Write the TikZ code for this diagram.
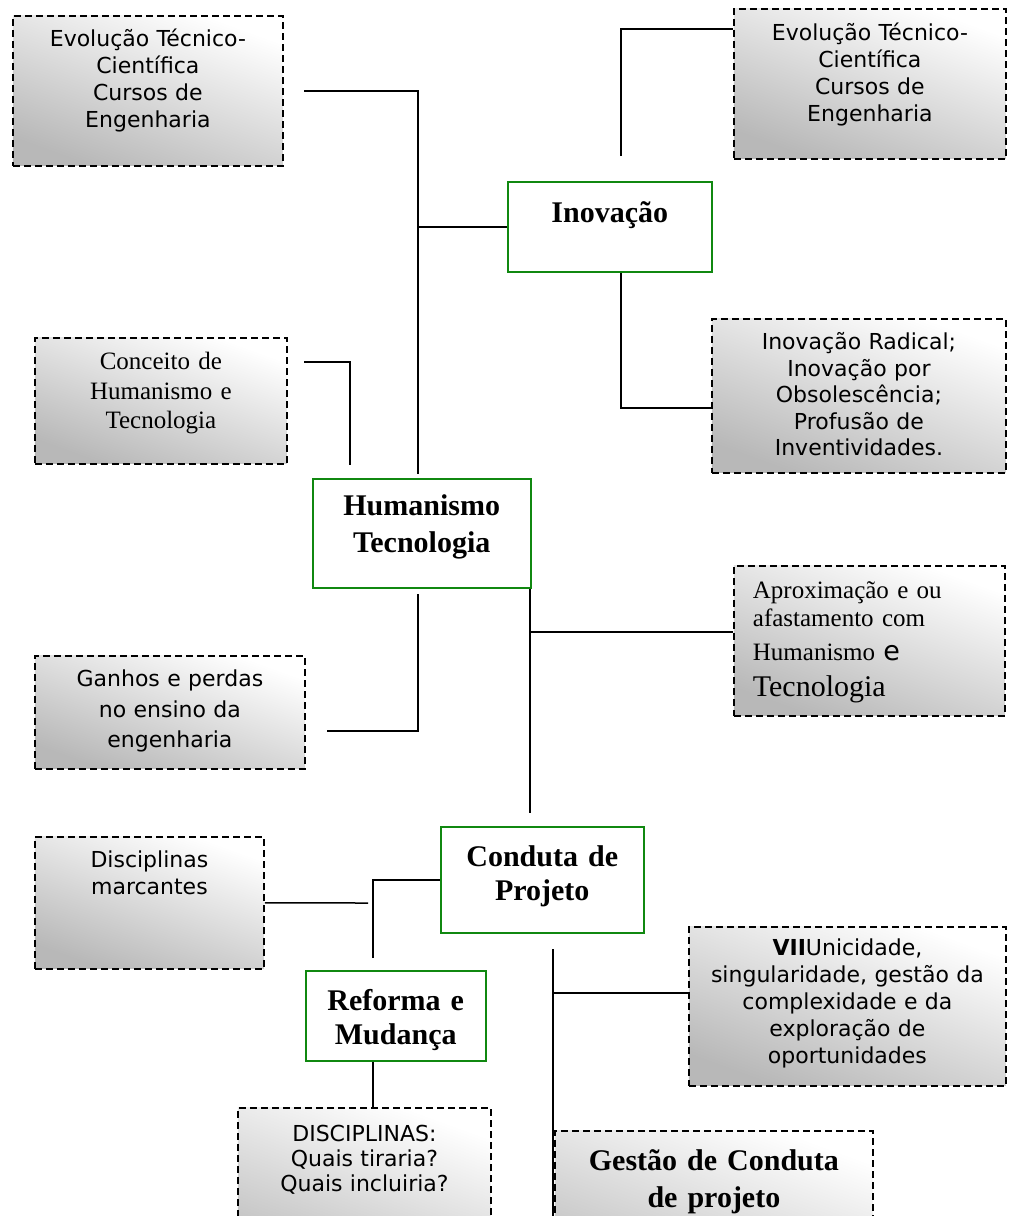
\documentclass[tikz,border=0pt]{standalone}
\usepackage{fontspec}
\setmainfont{Liberation Serif}
\newfontfamily\notefont{DejaVu Sans}
\definecolor{topicgreen}{RGB}{16,136,16}
\begin{document}
\begin{tikzpicture}[x=1pt,y=-1pt]
      \tikzset{note/.style={draw, dash pattern=on 7pt off 4pt, line width=1.8pt, shading=axis, top color=white, bottom color=black!28, shading angle=-20, anchor=north west, inner sep=0pt, align=center, font=\notefont\fontsize{22}{27}\selectfont},
               topic/.style={draw=topicgreen, line width=1.5pt, fill=white, anchor=north west, inner sep=0pt, align=center, font=\bfseries\fontsize{30}{37}\selectfont},
               link/.style={line width=1.5pt}}
      \useasboundingbox (0,0) rectangle (1012,1216);
%% Topics
	% green boxes
	\node[topic, text width=204pt, text height=41pt, text depth=49pt] (inov) at (507,181) {Inovação};
	\node[topic, text width=218pt, text height=37pt, text depth=72pt] (hum) at (312,478) {Humanismo\\Tecnologia};
	\node[topic, text width=203pt, text height=40pt, text depth=66pt, font=\bfseries\fontsize{30}{34}\selectfont] (conduta) at (440,826) {Conduta de\\Projeto};
	\node[topic, text width=180pt, text height=40pt, text depth=50pt, font=\bfseries\fontsize{30}{34}\selectfont] (reforma) at (305,970) {Reforma e\\Mudança};
%% Notes
	% dashed boxes
	\node[note, text width=270pt, text height=31pt, text depth=119pt] (evoA) at (12,15) {Evolução Técnico-\\Científica\\Cursos de\\Engenharia};
	\node[note, text width=272pt, text height=32pt, text depth=118pt] (evoB) at (733,8) {Evolução Técnico-\\Científica\\Cursos de\\Engenharia};
	\node[note, text width=294pt, text height=31pt, text depth=123pt, font=\notefont\fontsize{22}{26.5}\selectfont] (radical) at (711,318) {Inovação Radical;\\Inovação por\\Obsolescência;\\Profusão de\\Inventividades.};
	\node[note, text width=252pt, text height=32pt, text depth=94pt, font=\rmfamily\fontsize{25}{29.5}\selectfont] (conceito) at (34,337) {Conceito de\\Humanismo e\\Tecnologia};
	\node[note, inner xsep=19pt, text width=233pt, text height=33pt, text depth=117pt, align=left, font=\rmfamily\fontsize{25}{28}\selectfont] (aprox) at (733,565) {Aproximação e ou\\afastamento com\\[6pt]Humanismo {\notefont\fontsize{27}{28}\selectfont e}\\[8pt]{\fontsize{30}{28}\selectfont Tecnologia}};
	\node[note, text width=270pt, text height=31pt, text depth=82pt, font=\notefont\fontsize{22}{30.5}\selectfont] (ganhos) at (34,655) {Ganhos e perdas\\no ensino da\\engenharia};
	\node[note, text width=229pt, text height=31pt, text depth=101pt] (disc) at (34,836) {Disciplinas\\marcantes};
	\node[note, text width=317pt, text height=29pt, text depth=130pt] (unic) at (688,926) {\textbf{VII}Unicidade,\\singularidade, gestão da\\complexidade e da\\exploração de\\oportunidades};
	\node[note, text width=253pt, text height=34pt, text depth=150pt, font=\notefont\fontsize{22}{25}\selectfont] (quais) at (237,1107) {DISCIPLINAS:\\Quais tiraria?\\Quais incluiria?};
	\node[note, text width=318pt, text height=40pt, text depth=140pt, font=\bfseries\fontsize{30}{37}\selectfont] (gestao) at (554,1130) {Gestão de Conduta\\de projeto};
%% Free ends
	\coordinate (evoAend) at (304,91);
	\coordinate (trunkTop) at (418,91);
	\coordinate (trunkBot) at (418,474);
	\coordinate (inovUp) at (621,156);
	\coordinate (bendB) at (621,29);
	\coordinate (bendD) at (621,408);
	\coordinate (concA) at (304,362);
	\coordinate (concB) at (350,362);
	\coordinate (concC) at (350,465);
	\coordinate (humDown) at (530,813);
	\coordinate (bendE) at (530,632);
	\coordinate (ganA) at (418,594);
	\coordinate (ganB) at (418,731);
	\coordinate (ganC) at (327,731);
	\coordinate (discEnd) at (368,903);
	\coordinate (refTop) at (373,958);
	\coordinate (condA) at (553,949);
	\coordinate (condB) at (553,1216);
	\coordinate (bendH) at (553,993);
%Edges
	\draw[link] (evoAend) -- (trunkTop) -- (trunkBot);
	\draw[link] (trunkTop |- inov.west) -- (inov.west);
	\draw[link] (inovUp) -- (bendB) -- (bendB -| evoB.west);
	\draw[link] (bendD |- inov.south) -- (bendD) -- (bendD -| radical.west);
	\draw[link] (concA) -- (concB) -- (concC);
	\draw[link] (humDown |- hum.south) -- (humDown);
	\draw[link] (bendE) -- (bendE -| aprox.west);
	\draw[link] (ganA) -- (ganB) -- (ganC);
	\draw[link] (disc.east) -- (discEnd);
	\draw[link] (refTop) |- (conduta.west);
	\draw[link] (reforma.south -| refTop) -- (quais.north -| refTop);
	\draw[link] (condA) -- (condB);
	\draw[link] (bendH) -- (bendH -| unic.west);
\end{tikzpicture}
\end{document}
